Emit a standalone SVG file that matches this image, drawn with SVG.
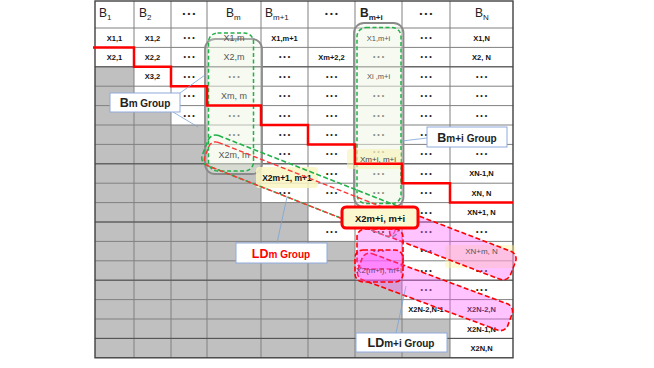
<svg xmlns="http://www.w3.org/2000/svg" width="654" height="368" viewBox="0 0 654 368">
<style>
.g{stroke:#808080;stroke-width:1;fill:none}
.t{font-family:"Liberation Sans",Arial,sans-serif;font-size:7.5px;font-weight:bold;fill:#111;text-anchor:middle}
.d{font-family:"Liberation Sans",Arial,sans-serif;font-size:7px;font-weight:bold;fill:#222;text-anchor:middle}
.dim{font-family:"Liberation Sans",Arial,sans-serif;font-size:9px;fill:#555;text-anchor:middle}
.dims{font-family:"Liberation Sans",Arial,sans-serif;font-size:7.5px;fill:#555;text-anchor:middle}
.h{font-family:"Liberation Sans",Arial,sans-serif;font-size:12px;fill:#222}
.lab{fill:#fff;stroke:#8faadc;stroke-width:1}
.lt{font-family:"Liberation Sans",Arial,sans-serif;text-anchor:middle;font-weight:bold}
.call{stroke:#7ba3d6;stroke-width:0.8;fill:none}
.pink{fill:#ff5cff;fill-opacity:0.36;stroke:#ff0000;stroke-width:1.6;stroke-dasharray:5 2.5}
</style>
<rect width="654" height="368" fill="#fff"/>
<g id="table">
<rect x="95" y="1" width="418" height="356.8" fill="#fff"/>
<polygon fill="#c0c0c0" points="95,66.8 134,66.8 134,105.6 171,105.6 171,125 207,125 207,163.8 261,163.8 261,202.6 308,202.6 308,241.4 355,241.4 355,280.2 402,280.2 402,319 450,319 450,357.8 95,357.8"/>
<g class="g">
<path d="M95,28H513M95,47.4H513M95,66.8H513M95,86.2H513M95,105.6H513M95,125H513M95,144.4H513M95,163.8H513M95,183.2H513M95,202.6H513M95,222H513M95,241.4H513M95,260.8H513M95,280.2H513M95,299.6H513M95,319H513M95,338.4H513"/>
<path d="M134,1V357.8M171,1V357.8M207,1V357.8M261,1V357.8M308,1V357.8M355,1V357.8M402,1V357.8M450,1V357.8"/>
<path d="M95,66.8H513M95,163.8H513M95,222H513M95,280.2H513M95,338.4H513" style="stroke:#505050"/>
</g>
<rect x="95" y="1" width="418" height="356.8" fill="none" stroke="#404040" stroke-width="1.4"/>
</g>
<g id="header">
<text class="h" x="99" y="17">B<tspan font-size="8" dy="3">1</tspan></text>
<text class="h" x="139" y="17">B<tspan font-size="8" dy="3">2</tspan></text>
<text class="d" x="189" y="16" style="font-size:8px">• • •</text>
<text class="h" x="226" y="17">B<tspan font-size="8" dy="3">m</tspan></text>
<text class="h" x="265" y="17">B<tspan font-size="8" dy="3">m+1</tspan></text>
<text class="d" x="331.5" y="16" style="font-size:8px">• • •</text>
<text class="h" x="360" y="17" style="font-weight:bold">B<tspan font-size="8" dy="3">m+i</tspan></text>
<text class="d" x="426" y="16" style="font-size:8px">• • •</text>
<text class="h" x="475" y="17">B<tspan font-size="8" dy="3">N</tspan></text>
</g>
<g id="cells">
<text class="t" x="114.5" y="40.5">X1,1</text>
<text class="t" x="152.5" y="40.5">X1,2</text>
<text class="t" x="284.5" y="40.5">X1,m+1</text>
<text class="t" x="481.5" y="40.5">X1,N</text>
<text class="t" x="114.5" y="59.9">X2,1</text>
<text class="t" x="152.5" y="59.9">X2,2</text>
<text class="t" x="331.5" y="59.9">Xm+2,2</text>
<text class="t" x="481.5" y="59.9">X2, N</text>
<text class="t" x="152.5" y="79.3">X3,2</text>
<text class="t" x="481.5" y="176.3">XN-1,N</text>
<text class="t" x="481.5" y="195.7">XN, N</text>
<text class="t" x="481.5" y="215.1">XN+1, N</text>
<text class="t" x="426" y="312.1">X2N-2,N-1</text>
<text class="t" x="481.5" y="312.1">X2N-2,N</text>
<text class="t" x="481.5" y="331.5">X2N-1,N</text>
<text class="t" x="481.5" y="350.9">X2N,N</text>
<g class="d">
<text x="189" y="40">• • •</text><text x="426" y="40">• • •</text>
<text x="189" y="59.4">• • •</text><text x="284.5" y="59.4">• • •</text><text x="378.5" y="59.4">• • •</text><text x="426" y="59.4">• • •</text>
<text x="189" y="78.8">• • •</text><text x="234" y="78.8">• • •</text><text x="284.5" y="78.8">• • •</text><text x="331.5" y="78.8">• • •</text><text x="426" y="78.8">• • •</text><text x="481.5" y="78.8">• • •</text>
<text x="152.5" y="98.2">• • •</text><text x="189" y="98.2">• • •</text><text x="284.5" y="98.2">• • •</text><text x="331.5" y="98.2">• • •</text><text x="378.5" y="98.2">• • •</text><text x="426" y="98.2">• • •</text><text x="481.5" y="98.2">• • •</text>
<text x="189" y="117.6">• • •</text><text x="234" y="117.6">• • •</text><text x="284.5" y="117.6">• • •</text><text x="331.5" y="117.6">• • •</text><text x="378.5" y="117.6">• • •</text><text x="426" y="117.6">• • •</text><text x="481.5" y="117.6">• • •</text>
<text x="234" y="137">• • •</text><text x="284.5" y="137">• • •</text><text x="331.5" y="137">• • •</text><text x="378.5" y="137">• • •</text><text x="426" y="137">• • •</text>
<text x="284.5" y="156.4">• • •</text><text x="331.5" y="156.4">• • •</text><text x="378.5" y="153.5">• • •</text><text x="426" y="156.4">• • •</text><text x="481.5" y="156.4">• • •</text>
<text x="331.5" y="175.8">• • •</text><text x="378.5" y="175.8">• • •</text><text x="426" y="175.8">• • •</text>
<text x="284.5" y="195.2">• • •</text><text x="331.5" y="195.2">• • •</text><text x="378.5" y="195.2">• • •</text><text x="426" y="195.2">• • •</text>
<text x="426" y="214.6">• • •</text>
<text x="331.5" y="234">• • •</text><text x="378.5" y="234">• • •</text><text x="426" y="234">• • •</text><text x="481.5" y="234">• • •</text>
<text x="378.5" y="253.4">• • •</text><text x="426" y="253.4">• • •</text>
<text x="426" y="272.8">• • •</text><text x="481.5" y="272.8">• • •</text>
<text x="426" y="292.2">• • •</text><text x="481.5" y="292.2">• • •</text>
</g>
</g>
<g id="bm-group">
<rect x="205" y="39" width="57" height="135" rx="10" fill="#eef6e6" fill-opacity="0.3" stroke="#8a8a8a" stroke-width="1.8"/>
<rect x="208.5" y="33" width="45" height="138" rx="9" fill="#eef6e6" fill-opacity="0.3" stroke="#22b04a" stroke-width="1.5" stroke-dasharray="4 2.5"/>
<text class="dim" x="234" y="40.5">X1,m</text>
<text class="dim" x="234" y="59.9">X2,m</text>
<text class="dim" x="234" y="98.7">Xm, m</text>
<text class="dim" x="234" y="157.5">X2m, m</text>
</g>
<g id="bmi-group">
<rect x="354" y="23" width="49.5" height="184" rx="10" fill="#eef6e6" fill-opacity="0.3" stroke="#8a8a8a" stroke-width="1.8"/>
<rect x="357" y="27.5" width="44" height="176" rx="9" fill="#eef6e6" fill-opacity="0.3" stroke="#22b04a" stroke-width="1.5" stroke-dasharray="4 2.5"/>
<text class="dims" x="378.5" y="40.5">X1,m+i</text>
<text class="dims" x="378.5" y="79.3">Xi ,m+i</text>
</g>
<g id="yellow-labels">
<rect x="256" y="167" width="62" height="21" rx="3" fill="#faf6c4" fill-opacity="0.85"/>
<text class="t" x="287" y="181" style="font-size:8.5px">X2m+1, m+1</text>
<rect x="347" y="149" width="54" height="20" rx="3" fill="#f8f2b8" fill-opacity="0.6"/>
<rect x="445" y="245" width="70" height="23" rx="3" fill="#fff4a0" fill-opacity="0.45"/>
</g>
<g id="ldm-group" transform="translate(209,149) rotate(21.5)">
<rect x="-4" y="-16" width="210" height="32" rx="8" fill="none" stroke="#22b04a" stroke-width="1.6" stroke-dasharray="5 2.5"/>
<rect x="-1" y="-9.5" width="204" height="25.5" rx="7" fill="none" stroke="#ff3333" stroke-width="1.4" stroke-dasharray="5 2.5"/>
</g>
<g id="ldmi-group">
<g transform="translate(392.6,222) rotate(21)"><rect x="0" y="-15" width="129" height="30" rx="8" class="pink"/></g>
<rect x="357" y="229" width="46" height="40" rx="8" class="pink"/>
<g transform="translate(360,264) rotate(20.4)"><rect x="0" y="-14" width="160" height="28" rx="8" class="pink"/></g>
<rect x="355" y="250" width="48" height="32" rx="8" class="pink"/>
<text class="dims" x="379" y="273.3" style="font-size:8px;fill:#6a3a6a">X2(m+i), m+i</text>
<text class="t" x="481.5" y="253.9" style="font-weight:normal;fill:#555;font-size:8px">XN+m, N</text>
</g>
<g id="connectors">
<path d="M93,47.4H134V66.8H171V86.2H207V105.6H261V125H308V144.4H355V163.8H402V183.2H450V202.6H513" fill="none" stroke="#ff0000" stroke-width="2.5"/>
<path class="call" d="M180,93L205,75M173,112L198,127"/>
<path class="call" d="M427,138L402,141"/>
<path class="call" d="M277,243L287,197"/>
<path class="call" d="M396,333L406,286"/>
</g>
<text class="dims" x="378" y="161.5" style="font-size:8px;fill:#444">Xm+i, m+i</text>
<g id="x2mi-box">
<rect x="342" y="207" width="76" height="21" rx="4" fill="#fbf8d0" stroke="#ff0000" stroke-width="3"/>
<text class="t" x="380" y="221.5" style="font-size:9.5px">X2m+i, m+i</text>
</g>
<g id="label-bm">
<rect class="lab" x="110" y="93" width="70" height="19"/>
<text class="lt" x="145" y="107" style="fill:#222"><tspan font-size="12.5">B</tspan><tspan font-size="10">m Group</tspan></text>
</g>
<g id="label-bmi">
<rect class="lab" x="427" y="127" width="80" height="20"/>
<text class="lt" x="467" y="141.5" style="fill:#222"><tspan font-size="12.5">B</tspan><tspan font-size="10">m+i Group</tspan></text>
</g>
<g id="label-ldm">
<rect class="lab" x="236" y="243" width="91" height="20"/>
<text class="lt" x="281" y="258" style="fill:#ff0000"><tspan font-size="12.5">LD</tspan><tspan font-size="10">m Group</tspan></text>
</g>
<g id="label-ldmi">
<rect class="lab" x="356" y="333" width="91" height="19"/>
<text class="lt" x="401" y="347" style="fill:#222"><tspan font-size="12.5">LD</tspan><tspan font-size="10">m+i Group</tspan></text>
</g>
</svg>
